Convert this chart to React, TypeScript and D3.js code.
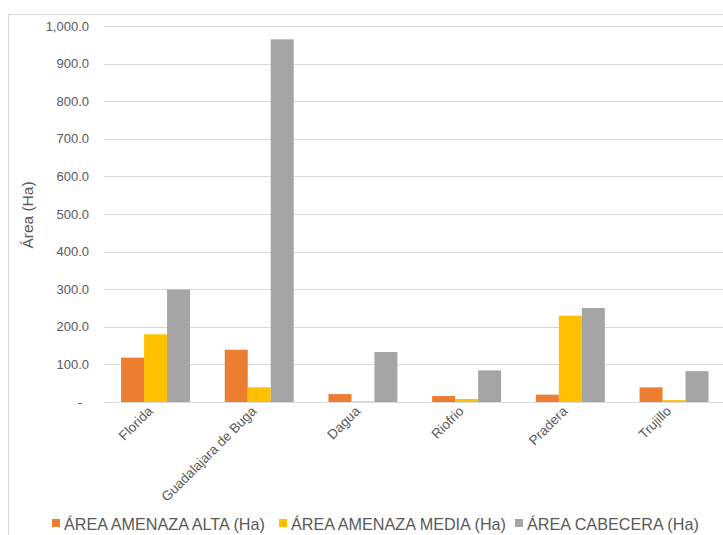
import React from "react";
import * as d3 from "d3";

const categories = ["Florida", "Guadalajara de Buga", "Dagua", "Riofrio", "Pradera", "Trujillo"];
const seriesNames = ["ÁREA AMENAZA ALTA (Ha)", "ÁREA AMENAZA MEDIA (Ha)", "ÁREA CABECERA (Ha)"];
const altaValues = [118, 139, 21, 16, 19.5, 39];
const mediaValues = [180, 39, 1.5, 8, 229.6, 5];
const cabeceraValues = [299, 964.6, 133, 84, 250, 82];
const seriesColors = ["#ED7D31", "#FFC000", "#A5A5A5"];
const yTicks = [0, 100, 200, 300, 400, 500, 600, 700, 800, 900, 1000];

const W = 723;
const H = 535;

export default function App() {
  const seriesValues = [altaValues, mediaValues, cabeceraValues];
  const left = 103.7;
  const step = 103.7;
  const x = d3
    .scaleBand<string>()
    .domain(categories)
    .range([left, left + step * categories.length])
    .paddingInner(0.335)
    .paddingOuter(0.1675);
  const xs = d3.scaleBand<number>().domain([0, 1, 2]).range([0, x.bandwidth()]);
  const y = d3.scaleLinear().domain([0, 1000]).range([402, 26]);
  const fmt = d3.format(",.1f");
  const font = "'Liberation Sans', Arial, sans-serif";
  const textColor = "#595959";
  const legendX = [52, 279, 515];

  return (
    <svg
      width={W}
      height={H}
      style={{ position: "absolute", left: 0, top: 0, background: "#fff" }}
      fontFamily={font}
    >
      <rect x={0} y={0} width={W} height={H} fill="#fff" />
      <rect x={8.5} y={14.5} width={W + 20} height={H + 20} fill="none" stroke="#d9d9d9" />
      {yTicks.map((t) => (
        <g key={t}>
          <line x1={left} x2={W + 10} y1={Math.round(y(t)) + 0.5} y2={Math.round(y(t)) + 0.5} stroke="#d9d9d9" />
          <text
            x={t === 0 ? 82 : 89}
            y={y(t)}
            dy="0.35em"
            textAnchor="end"
            fontSize={13}
            fill={textColor}
          >
            {t === 0 ? "-" : fmt(t)}
          </text>
        </g>
      ))}
      {categories.map((c, i) => (
        <g key={c}>
          {seriesValues.map((vals, s) => (
            <rect
              key={s}
              x={(x(c) as number) + (xs(s) as number)}
              y={y(vals[i])}
              width={xs.bandwidth()}
              height={y(0) - y(vals[i])}
              fill={seriesColors[s]}
            />
          ))}
          <text
            transform={`translate(${(x(c) as number) + x.bandwidth() / 2 - 2},${412}) rotate(-45)`}
            textAnchor="end"
            fontSize={13.5}
            fill={textColor}
          >
            {c}
          </text>
        </g>
      ))}
      <text
        transform={`translate(${33},${215}) rotate(-90)`}
        textAnchor="middle"
        fontSize={15.5}
        fill={textColor}
      >
        Área (Ha)
      </text>
      {seriesNames.map((n, s) => (
        <g key={n}>
          <rect x={legendX[s]} y={519} width={8} height={8} fill={seriesColors[s]} />
          <text x={legendX[s] + 12} y={529.5} fontSize={16.2} fill={textColor}>
            {n}
          </text>
        </g>
      ))}
    </svg>
  );
}
